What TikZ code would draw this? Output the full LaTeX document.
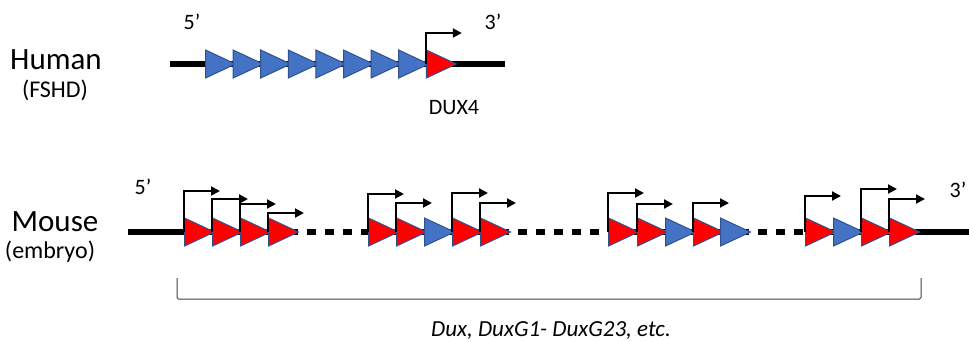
\documentclass[tikz,border=0pt]{standalone}
\usepackage{fontspec}
\setmainfont{Carlito}
\definecolor{repblue}{HTML}{4472C4}
\definecolor{edgeblue}{HTML}{2F528F}
\definecolor{repred}{RGB}{255, 0, 0}
\usetikzlibrary{arrows.meta,shapes.geometric}

\begin{document}
\begin{tikzpicture}[
    x=1pt, y=-1pt,
    rep/.style={isosceles triangle, isosceles triangle stretches, draw=edgeblue,
      line width=1pt, inner sep=0pt, minimum width=28pt, minimum height=30pt,
      anchor=lower side},
    brep/.style={rep, fill=repblue},
    rrep/.style={rep, fill=repred},
    dna/.style={line width=5.5pt},
    gap/.style={dash pattern=on 9pt off 9pt, dash phase=-10pt},
    tss/.style={line width=2pt, -{Triangle[length=9pt, width=9pt]}},
    species/.style={font=\fontsize{31}{36}\selectfont},
    state/.style={font=\fontsize{24}{28}\selectfont},
    strand/.style={font=\fontsize{22}{26}\selectfont}
  ]
    \useasboundingbox (0,0) rectangle (969,341);

    % human D4Z4 array
    \node[species] (human) at (56,60) {Human};
    \node[state] (fshd) at (55,90) {(FSHD)};
    \draw[dna] (170,64) -- (505,64);
    \foreach \i [count=\n] in {0,...,7}
      \node[brep] (h\n) at (205+27.6*\i,64) {};
    \node[rrep] (dux4) at (425.8,64) {};
    \node[strand] (h5) at (192,22) {5’};
    \node[strand] (h3) at (493,22) {3’};
    \node[strand] (dux4lab) at (454,108) {DUX4};
    \draw[tss] (dux4.lower side) |- ++(36,-31);

    % mouse Dux clusters
    \node[species] (mouse) at (55,222) {Mouse};
    \node[state] (embryo) at (50,252) {(embryo)};
    \draw[dna] (128,232) -- (297,232);
    \draw[dna,gap] (297,232) -- (368,232);
    \draw[dna] (368,232) -- (508,232);
    \draw[dna,gap] (508,232) -- (608,232);
    \draw[dna] (608,232) -- (748,232);
    \draw[dna,gap] (748,232) -- (805,232);
    \draw[dna] (805,232) -- (969,232);

    \node[rrep] (m1) at (184,232) {};
    \node[rrep] (m2) at (212,232) {};
    \node[rrep] (m3) at (240,232) {};
    \node[rrep] (m4) at (268,232) {};

    \node[rrep] (m5) at (368,232) {};
    \node[rrep] (m6) at (396,232) {};
    \node[brep] (m7) at (424,232) {};
    \node[rrep] (m8) at (452,232) {};
    \node[rrep] (m9) at (480,232) {};

    \node[rrep] (m10) at (608,232) {};
    \node[rrep] (m11) at (637,232) {};
    \node[brep] (m12) at (665,232) {};
    \node[rrep] (m13) at (693,232) {};
    \node[brep] (m14) at (720,232) {};

    \node[rrep] (m15) at (805,232) {};
    \node[brep] (m16) at (833,232) {};
    \node[rrep] (m17) at (861,232) {};
    \node[rrep] (m18) at (889,232) {};

    \draw[tss] (m1.lower side) |- ++(36,-41);
    \draw[tss] (m2.lower side) |- ++(36,-33);
    \draw[tss] (m3.lower side) |- ++(36,-28);
    \draw[tss] (m4.lower side) |- ++(36,-19);
    \draw[tss] (m5.lower side) |- ++(36,-38);
    \draw[tss] (m6.lower side) |- ++(36,-29);
    \draw[tss] (m8.lower side) |- ++(36,-39);
    \draw[tss] (m9.lower side) |- ++(36,-29);
    \draw[tss] (m10.lower side) |- ++(36,-39);
    \draw[tss] (m11.lower side) |- ++(36,-28);
    \draw[tss] (m13.lower side) |- ++(36,-29);
    \draw[tss] (m15.lower side) |- ++(36,-36);
    \draw[tss] (m17.lower side) |- ++(36,-43);
    \draw[tss] (m18.lower side) |- ++(36,-33);

    \node[strand] (m5p) at (143,187) {5’};
    \node[strand] (m3p) at (958,190) {3’};

    % bracket over the cluster
    \draw[line width=1pt, black!75, rounded corners=1.5pt]
      (177,278) -- (177,299) -- (921,299) -- (921,278);
    \node[font=\fontsize{23}{27}\selectfont\itshape] (family) at (551,331)
      {Dux, DuxG1- DuxG23, etc.};
  \end{tikzpicture}
\end{document}
